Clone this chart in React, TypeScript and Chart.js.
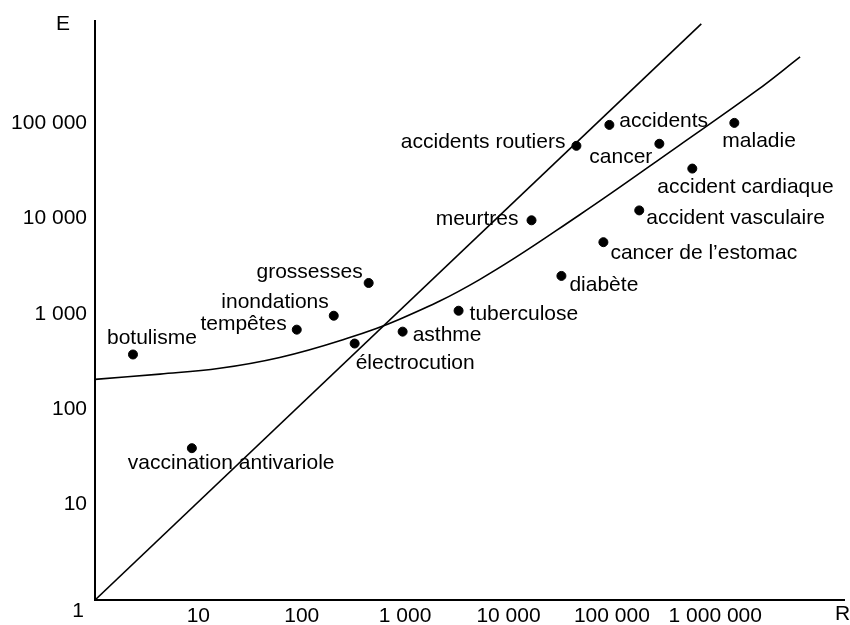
import React, { useEffect, useRef } from "react";
import { Chart, registerables } from "chart.js";

Chart.register(...registerables);

// Risk points: R (horizontal) and E (vertical)
const riskNames = [
  "botulisme",
  "tempêtes",
  "inondations",
  "grossesses",
  "électrocution",
  "asthme",
  "tuberculose",
  "diabète",
  "vaccination antivariole",
  "meurtres",
  "accidents routiers",
  "accidents",
  "cancer",
  "maladie",
  "accident cardiaque",
  "accident vasculaire",
  "cancer de l’estomac",
];
const riskR = [2.33, 89.5, 204, 444, 325, 946, 3290, 32500, 8.65, 16700, 45400, 94600, 288000, 1530000, 600000, 184000, 82800];
const riskE = [374, 681, 953, 2100, 487, 649, 1075, 2490, 39, 9530, 57500, 95300, 60400, 100000, 33200, 12100, 5620];

// Straight line E = R
const lineR = [1, 733000];
const lineE = [1, 1090000];

// Curved line
const curveR = [1, 4.25, 16.1, 61.2, 233, 885, 5250, 48500, 449000, 2490000, 6620000];
const curveE = [205, 233, 268, 348, 521, 875, 2280, 10840, 58200, 216000, 492000];

// Tick values / labels
const xTickValues = [10, 100, 1000, 10000, 100000, 1000000];
const xTickLabels = ["10", "100", "1 000", "10 000", "100 000", "1 000 000"];
const yTickValues = [10, 100, 1000, 10000, 100000];
const yTickLabels = ["10", "100", "1 000", "10 000", "100 000"];

const xMin = 1;
const xMax = 17800000;
const yMin = 1;
const yMax = 1180000;

// label placement relative to the dot: [dx, dy(baseline), align]
const labelPlacement: [number, number, CanvasTextAlign][] = [
  [-26, -10, "left"],
  [-10, 0, "right"],
  [-5, -8, "right"],
  [-6, -5, "right"],
  [1, 25, "left"],
  [10, 9, "left"],
  [11, 9, "left"],
  [8, 15, "left"],
  [-64, 21, "left"],
  [-13, 5, "right"],
  [-11, 2, "right"],
  [10, 2, "left"],
  [-7, 19, "right"],
  [-12, 24, "left"],
  [-35, 24, "left"],
  [7, 14, "left"],
  [7, 17, "left"],
];

const FONT = "'Liberation Sans', Arial, Helvetica, sans-serif";

const textPlugin = {
  id: "riskText",
  afterDatasetsDraw(chart: any) {
    const ctx = chart.ctx;
    const meta = chart.getDatasetMeta(0);
    ctx.save();
    ctx.font = `21px ${FONT}`;
    ctx.fillStyle = "#000";
    ctx.textBaseline = "alphabetic";
    meta.data.forEach((el: any, i: number) => {
      const [dx, dy, align] = labelPlacement[i];
      ctx.textAlign = align;
      ctx.fillText(riskNames[i], el.x + dx, el.y + dy);
    });
    const area = chart.chartArea;
    ctx.textAlign = "center";
    ctx.fillText("E", area.left - 32, area.top + 9);
    ctx.fillText("R", area.right - 2, area.bottom + 20);
    ctx.fillText("1", area.left - 17, area.bottom + 17);
    ctx.restore();
  },
};

export default function App() {
  const canvasRef = useRef<HTMLCanvasElement | null>(null);

  useEffect(() => {
    if (!canvasRef.current) return;
    Chart.defaults.font.family = FONT;
    Chart.defaults.font.size = 21;
    Chart.defaults.color = "#000";

    const chart = new Chart(canvasRef.current, {
      type: "scatter",
      data: {
        datasets: [
          {
            label: "risques",
            data: riskR.map((r, i) => ({ x: r, y: riskE[i] })),
            backgroundColor: "#000",
            borderColor: "#000",
            pointRadius: 4.5,
            pointHoverRadius: 4.5,
            showLine: false,
          },
          {
            label: "E = R",
            data: lineR.map((r, i) => ({ x: r, y: lineE[i] })),
            borderColor: "#000",
            borderWidth: 1.6,
            pointRadius: 0,
            showLine: true,
          },
          {
            label: "courbe",
            data: curveR.map((r, i) => ({ x: r, y: curveE[i] })),
            borderColor: "#000",
            borderWidth: 1.6,
            pointRadius: 0,
            showLine: true,
            tension: 0.4,
          },
        ],
      },
      options: {
        animation: false,
        responsive: true,
        maintainAspectRatio: false,
        events: [],
        layout: { padding: { top: 17, right: 5, left: 0, bottom: 0 } },
        plugins: {
          legend: { display: false },
          tooltip: { enabled: false },
        },
        scales: {
          x: {
            type: "logarithmic",
            min: xMin,
            max: xMax,
            grid: { display: false, drawTicks: false },
            border: { display: true, color: "#000", width: 2 },
            afterBuildTicks: (scale: any) => {
              scale.ticks = xTickValues.map((v) => ({ value: v }));
            },
            afterFit: (scale: any) => {
              scale.height = 25;
            },
            ticks: {
              autoSkip: false,
              maxRotation: 0,
              padding: 4,
              color: "#000",
              font: { size: 21, family: FONT },
              callback: (_v: any, i: number) => xTickLabels[i],
            },
          },
          y: {
            type: "logarithmic",
            min: yMin,
            max: yMax,
            grid: { display: false, drawTicks: false },
            border: { display: true, color: "#000", width: 2 },
            afterBuildTicks: (scale: any) => {
              scale.ticks = yTickValues.map((v) => ({ value: v }));
            },
            afterFit: (scale: any) => {
              scale.width = 95;
            },
            ticks: {
              autoSkip: false,
              padding: 8,
              color: "#000",
              font: { size: 21, family: FONT },
              callback: (_v: any, i: number) => yTickLabels[i],
            },
          },
        },
      },
      plugins: [textPlugin],
    } as any);

    return () => chart.destroy();
  }, []);

  return (
    <div style={{ position: "fixed", left: 0, top: 0, width: 850, height: 625, background: "#fff" }}>
      <canvas ref={canvasRef} />
    </div>
  );
}
